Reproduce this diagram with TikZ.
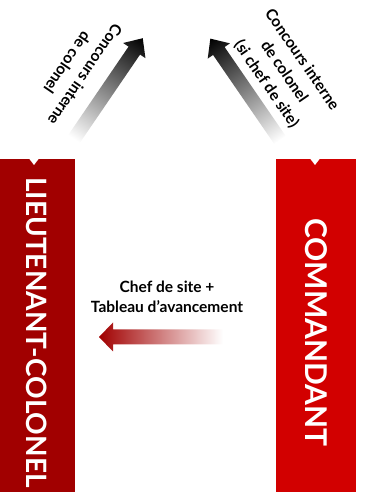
\documentclass[tikz,border=0pt]{standalone}
\usepackage{fontspec}
\setmainfont{Lato}
\definecolor{darkbar}{HTML}{A10000}
\definecolor{lightbar}{HTML}{D20000}
\begin{document}
\begin{tikzpicture}[x=1pt,y=1pt,
  bar/.style={draw=none, inner sep=0pt, anchor=south west, minimum height=333pt},
  notch/.style={fill=white, draw=none},
  bartext/.style={text=white, rotate=-90, inner sep=0pt},
  lbl/.style={font=\bfseries\fontsize{15.5}{21.5}\selectfont, align=center, inner sep=0pt},
  clbl/.style={font=\bfseries\fontsize{15.5}{20}\selectfont, align=center, inner sep=0pt},
]
\useasboundingbox (0,0) rectangle (365,492);
% bars
\node[bar, fill=darkbar, minimum width=75pt] (ltcol) at (0,0) {};
\node[bar, fill=lightbar, minimum width=80pt] (cmdt) at (276,0) {};
\fill[notch] (29,333.5) -- (39,333.5) -- (34,327) -- cycle;
\fill[notch] (310,333.5) -- (320,333.5) -- (315,327) -- cycle;
\node[bartext, font=\bfseries\fontsize{28}{34}\selectfont] (ltcoltext) at (37,159.5) {LIEUTENANT-COLONEL};
\node[bartext, font=\bfseries\fontsize{30}{36}\selectfont] (cmdttext) at (316,159.5) {COMMANDANT};
% centre arrow
\shade[left color=darkbar, right color=white]
  (99,155) -- (113,169.5) -- (113,162.5) -- (223,162.5) -- (223,147.5)
  -- (113,147.5) -- (113,140.5) -- cycle;
\node[clbl] (midlbl) at (167,195) {Chef de site +\\Tableau d'avancement};
% diagonal arrows
\begin{scope}[transform canvas={shift={(74,353)}, rotate=55.7}]
  \shade[left color=white, right color=black]
    (0,-7) -- (107,-7) -- (107,-13.5) -- (122,0) -- (107,13.5) -- (107,7) -- (0,7) -- cycle;
\end{scope}
\begin{scope}[transform canvas={shift={(280,352)}, rotate=124.5}]
  \shade[left color=white, right color=black]
    (0,-7) -- (108,-7) -- (108,-13.5) -- (123,0) -- (108,13.5) -- (108,7) -- (0,7) -- cycle;
\end{scope}
\node[lbl, rotate=-124.3] (leftlbl) at (76.5,423) {Concours interne\\de colonel};
\node[lbl, rotate=-55.5] (rightlbl) at (284,420) {Concours interne\\de colonel\\(si chef de site)};
\end{tikzpicture}
\end{document}
